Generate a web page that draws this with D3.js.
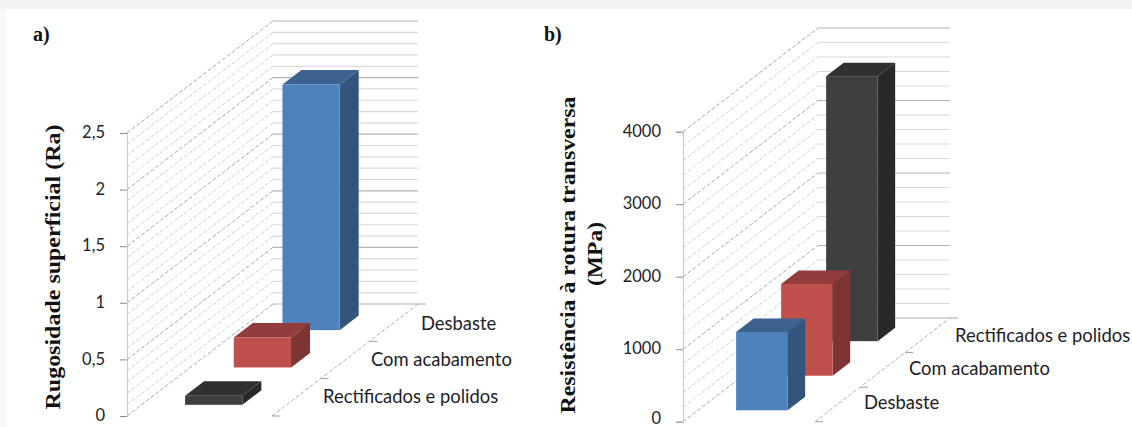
<!DOCTYPE html>
<html>
<head>
<meta charset="utf-8">
<script src="https://cdn.jsdelivr.net/npm/d3@7"></script>
<style>
  html, body { margin: 0; padding: 0; background: #fff; }
  svg { display: block; }
  .cat { font-family: Lato, "Open Sans", sans-serif; font-size: 18.4px; fill: #1d1d26; }
  .tick-label { font-family: Lato, "Open Sans", sans-serif; font-size: 16.5px; fill: #222; }
  .title { font-family: "Liberation Serif", serif; font-weight: bold; fill: #111; }
</style>
</head>
<body>
<div id="chart"></div>
<script>
// Rugosidade superficial (Ra)
const roughnessCategories = ["Rectificados e polidos", "Com acabamento", "Desbaste"];
const roughnessValues = [0.08, 0.265, 2.17];
const roughnessColors = ["#3f3f3f", "#c0504d", "#4f81bd"];
const roughnessTicks = [0, 0.5, 1, 1.5, 2, 2.5];

// Resistência à rotura transversa (MPa)
const strengthCategories = ["Desbaste", "Com acabamento", "Rectificados e polidos"];
const strengthValues = [1080, 1265, 3655];
const strengthColors = ["#4f81bd", "#c0504d", "#3f3f3f"];
const strengthTicks = [0, 1000, 2000, 3000, 4000];

const svg = d3.select("#chart").append("svg").attr("width", 1132).attr("height", 427);

// Soft page edge around the figure
svg.append("rect").attr("width", 1132).attr("height", 9).attr("fill", "#f3f3f3");
svg.append("rect").attr("y", 9).attr("width", 6).attr("height", 418).attr("fill", "#f8f8f8");

function shade(hex, k) {
  const c = d3.rgb(hex);
  return d3.rgb(c.r * k, c.g * k, c.b * k).formatHex();
}

// Draws one oblique 3D column chart: a value scale up the front wall edge,
// a depth scale running along the floor, and a width scale across the floor.
function panel(o) {
  const g = svg.append("g");
  const yScale = d3.scaleLinear().domain([0, o.max]).range([o.y0, o.yTop]);
  const depth = d3.scaleLinear().domain([0, 1]).range([0, o.depthX]);
  const rise = d3.scaleLinear().domain([0, 1]).range([0, o.depthY]);
  const across = d3.scaleLinear().domain([0, 1]).range([0, o.wallW]);
  const band = d3.scaleBand().domain(o.categories).range([0, 1]);

  // Project (a = across, t = depth, v = value) on to the page
  const px = (a, t) => o.x0 + across(a) + depth(t);
  const py = (t, v) => yScale(v) - rise(t);
  const poly = pts => pts.map(p => p.join(",")).join(" ");

  // Minor and major gridlines on both walls
  const grid = d3.range(0, o.max + o.minor / 2, o.minor);
  grid.forEach((v, i) => {
    const major = i % o.majorEvery === 0;
    g.append("line")
      .attr("x1", px(0, 0)).attr("y1", py(0, v))
      .attr("x2", px(0, 1)).attr("y2", py(1, v))
      .attr("stroke", major ? "#a8a8a8" : "#cfcfcf")
      .attr("stroke-width", 1)
      .attr("stroke-dasharray", "4 2");
    g.append("line")
      .attr("x1", px(0, 1)).attr("y1", py(1, v))
      .attr("x2", px(1, 1)).attr("y2", py(1, v))
      .attr("stroke", major ? "#b4b4b4" : "#dadada")
      .attr("stroke-width", 1.2);
  });

  // Floor edge, with a tick at each category boundary
  g.append("line")
    .attr("x1", px(1, 0)).attr("y1", py(0, 0))
    .attr("x2", px(1, 1)).attr("y2", py(1, 0))
    .attr("stroke", "#b0b0b0").attr("stroke-dasharray", "4 2");
  [0, 1 / 3, 2 / 3, 1].forEach(t => {
    g.append("line")
      .attr("x1", px(1, t)).attr("y1", py(t, 0))
      .attr("x2", px(1, t) + 8).attr("y2", py(t, 0))
      .attr("stroke", "#a0a0a0");
  });

  // Value axis on the front edge of the wall
  const axis = d3.axisLeft(yScale).tickValues(o.ticks).tickSize(7).tickPadding(15)
    .tickFormat(o.format);
  const ax = g.append("g").attr("transform", `translate(${o.x0},0)`).call(axis);
  ax.select(".domain").attr("stroke", "#c8c8c8");
  ax.selectAll(".tick line").attr("stroke", "#8c8c8c");
  ax.selectAll(".tick text").attr("class", "tick-label")
    .attr("dy", v => (v === 0 ? o.zeroDy : "0.29em"))
    .attr("fill", null).attr("font-family", null).attr("font-size", null);

  // Columns, back to front so the nearer ones overlap
  const rows = o.categories.map((c, i) => ({ c, v: o.values[i], col: o.colors[i] })).reverse();
  rows.forEach(d => {
    const t0 = band(d.c) + band.bandwidth() * o.barInset;
    const t1 = t0 + band.bandwidth() * o.barDepth;
    const a0 = o.barStart, a1 = o.barStart + o.barWidth;
    const b = g.append("g");
    b.append("polygon").attr("fill", shade(d.col, 0.65)).attr("points", poly([
      [px(a1, t0), py(t0, 0)], [px(a1, t1), py(t1, 0)],
      [px(a1, t1), py(t1, d.v)], [px(a1, t0), py(t0, d.v)]]));
    b.append("polygon").attr("fill", shade(d.col, 0.76)).attr("points", poly([
      [px(a0, t0), py(t0, d.v)], [px(a1, t0), py(t0, d.v)],
      [px(a1, t1), py(t1, d.v)], [px(a0, t1), py(t1, d.v)]]));
    b.append("rect").attr("fill", d.col)
      .attr("x", px(a0, t0)).attr("y", py(t0, d.v))
      .attr("width", px(a1, t0) - px(a0, t0))
      .attr("height", py(t0, 0) - py(t0, d.v));
  });

  // Category names beside the floor
  o.categories.forEach((c, i) => {
    g.append("text").attr("class", "cat")
      .attr("x", o.catX[i]).attr("y", o.catY[i])
      .text(c);
  });

  // Panel letter and axis title
  g.append("text").attr("class", "title").attr("font-size", 20)
    .attr("x", o.letterX).attr("y", 41).text(o.letter);
  o.title.forEach(t => {
    g.append("text").attr("class", "title").attr("font-size", t.size)
      .attr("text-anchor", "middle")
      .attr("textLength", t.length).attr("lengthAdjust", "spacingAndGlyphs")
      .attr("transform", `translate(${t.x},${t.y}) rotate(-90)`)
      .text(t.text);
  });
}

panel({
  categories: roughnessCategories, values: roughnessValues, colors: roughnessColors,
  ticks: roughnessTicks, format: v => String(v).replace(".", ","),
  max: 2.5, minor: 0.1, majorEvery: 5, zeroDy: "0.29em",
  x0: 127, y0: 416, yTop: 133, depthX: 146, depthY: 112, wallW: 145,
  barStart: 0.30, barWidth: 0.395, barInset: 0.3, barDepth: 0.39,
  catX: [323, 371, 421], catY: [403, 366, 330],
  letter: "a)", letterX: 33,
  title: [{ text: "Rugosidade superficial  (Ra)", x: 60, y: 267, size: 21, length: 285 }]
});

panel({
  categories: strengthCategories, values: strengthValues, colors: strengthColors,
  ticks: strengthTicks, format: d3.format("d"),
  max: 4000, minor: 200, majorEvery: 5, zeroDy: "0.12em",
  x0: 683, y0: 421.7, yTop: 131.7, depthX: 135, depthY: 103.7, wallW: 132,
  barStart: 0.29, barWidth: 0.39, barInset: 0.33, barDepth: 0.39,
  catX: [864, 909, 955], catY: [409, 375, 342],
  letter: "b)", letterX: 544,
  title: [
    { text: "Resistência à rotura transversa", x: 575, y: 255, size: 21, length: 317 },
    { text: "(MPa)", x: 602, y: 254, size: 21, length: 64 }
  ]
});
</script>
</body>
</html>
